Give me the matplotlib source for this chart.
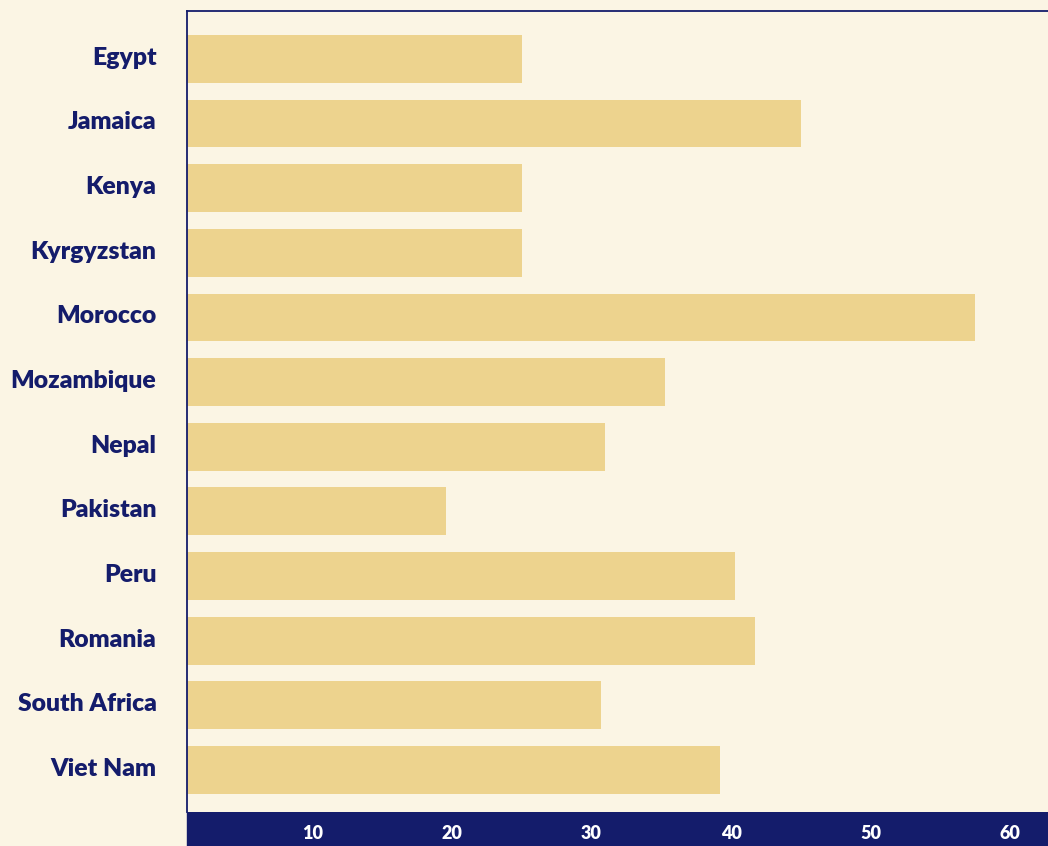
import matplotlib
matplotlib.use("Agg")
import matplotlib.pyplot as plt
import matplotlib.transforms as mtransforms
from matplotlib.patches import Rectangle

countries = ["Egypt", "Jamaica", "Kenya", "Kyrgyzstan", "Morocco", "Mozambique",
             "Nepal", "Pakistan", "Peru", "Romania", "South Africa", "Viet Nam"]
values = [25.0, 45.0, 25.0, 25.0, 57.5, 35.3, 31.0, 19.6, 40.3, 41.7, 30.7, 39.2]
xticks = [10, 20, 30, 40, 50, 60]

BG = "#FBF5E4"
BAR = "#EDD38E"
NAVY = "#141C6B"

W, H = 1048, 846
fig = plt.figure(figsize=(W / 100, H / 100), dpi=100, facecolor=BG)
left, right, top, bottom = 187, 1048, 11, 812
ax = fig.add_axes([left / W, 1 - bottom / H, (right - left) / W, (bottom - top) / H])
ax.set_facecolor(BG)

fig.patches.append(Rectangle((left / W, 0), (right - left) / W, (H - bottom) / H,
                             transform=fig.transFigure, color=NAVY, zorder=-1))

pos = list(range(len(countries)))
ax.barh(pos, values, height=0.74, color=BAR, left=0)
ax.set_xlim(1.03, 62.7)
ax.set_ylim(11.65, -0.74)

ax.set_yticks(pos)
ax.set_yticklabels(countries, family="Lato", weight="heavy", fontsize=17.8, color=NAVY)
ax.tick_params(axis="y", length=0, pad=22)
offset = mtransforms.ScaledTranslation(0, 3 / 100, fig.dpi_scale_trans)
for lab in ax.get_yticklabels():
    lab.set_transform(lab.get_transform() + offset)

ax.set_xticks(xticks)
ax.set_xticklabels([str(t) for t in xticks], family="Lato", weight="heavy",
                   fontsize=13, color="white")
ax.tick_params(axis="x", length=0, pad=9)

for s in ["right", "bottom"]:
    ax.spines[s].set_visible(False)
for s in ["left", "top"]:
    ax.spines[s].set_color(NAVY)
    ax.spines[s].set_linewidth(1.3)

fig.savefig("out.png", dpi=100, facecolor=BG)
